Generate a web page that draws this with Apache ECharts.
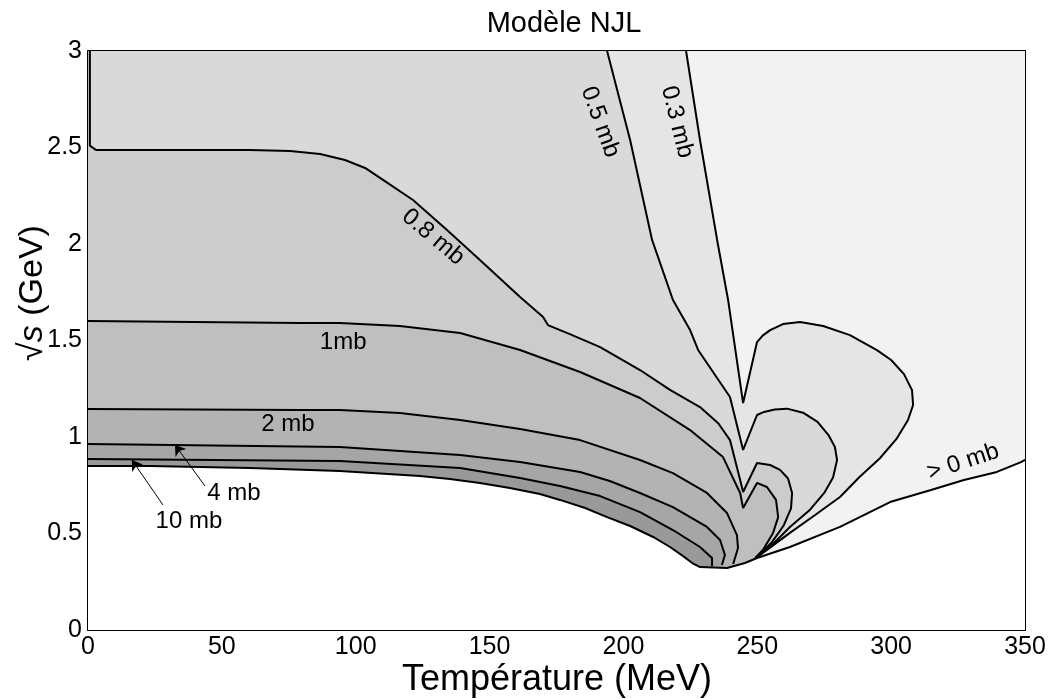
<!DOCTYPE html>
<html>
<head>
<meta charset="utf-8">
<title>Modèle NJL</title>
<script src="https://cdn.jsdelivr.net/npm/echarts@6/dist/echarts.min.js"></script>
<style>
  html, body { margin: 0; padding: 0; background: #fff; }
  #main { width: 1050px; height: 699px; }
</style>
</head>
<body>
<div id="main"></div>
<script>
// contour lines, points are [T (MeV), sqrt(s) (GeV)]
var c03 = [[223.4, 3.0], [228.6, 2.539], [235.0, 2.021], [239.1, 1.710], [244.7, 1.176],
  [249.9, 1.492], [252.0, 1.525], [254.8, 1.554], [259.6, 1.585], [266.0, 1.596], [274.6, 1.575],
  [284.6, 1.528], [294.7, 1.450], [300.0, 1.399], [304.8, 1.326], [307.8, 1.243], [308.2, 1.166],
  [306.3, 1.088], [302.0, 0.990], [295.8, 0.890], [288.0, 0.790], [280.9, 0.689], [271.6, 0.596],
  [262.2, 0.503], [253.6, 0.415], [249.9, 0.378]];
var c05 = [[193.9, 3.0], [202.5, 2.539], [210.7, 2.021], [218.5, 1.710], [224.9, 1.554],
  [227.9, 1.451], [239.8, 1.207], [244.7, 0.933], [249.9, 1.114], [252.5, 1.130], [256.5, 1.142],
  [261.1, 1.147], [267.1, 1.126], [272.5, 1.078], [276.6, 1.010], [279.0, 0.948], [279.8, 0.881],
  [278.3, 0.790], [275.0, 0.710], [269.5, 0.620], [262.2, 0.534], [254.8, 0.430], [249.9, 0.378]];
var c08 = [[0.7, 3.0], [0.7, 2.51], [3.0, 2.487], [60.5, 2.487], [75.5, 2.482], [86.7, 2.466],
  [96.0, 2.435], [103.5, 2.394], [110.9, 2.326], [121.4, 2.228], [134.1, 2.073], [146.4, 1.917],
  [161.4, 1.725], [170.0, 1.622], [171.8, 1.580], [180.0, 1.533], [191.3, 1.466], [206.2, 1.347],
  [217.4, 1.244], [228.6, 1.155], [235.5, 1.070], [239.8, 0.984], [243.6, 0.777], [244.7, 0.715],
  [249.9, 0.865], [254.8, 0.855], [258.5, 0.830], [261.5, 0.785], [263.0, 0.710], [262.6, 0.630],
  [259.8, 0.540], [255.5, 0.455], [249.9, 0.378]];
var c1 = [[0, 1.601], [79.2, 1.591], [94.1, 1.591], [116.5, 1.575], [139.0, 1.539], [161.4, 1.451],
  [183.8, 1.337], [206.2, 1.202], [224.9, 1.036], [237.2, 0.896], [243.6, 0.710], [244.7, 0.632],
  [249.9, 0.762], [253.6, 0.741], [257.0, 0.674], [257.8, 0.585], [255.9, 0.503], [252.1, 0.415],
  [249.2, 0.373]];
var c2 = [[0, 1.145], [79.2, 1.140], [94.1, 1.140], [116.5, 1.124], [139.0, 1.088], [161.4, 1.041],
  [183.8, 0.984], [206.2, 0.881], [218.5, 0.813], [231.2, 0.710], [238.7, 0.606], [242.4, 0.492],
  [242.8, 0.425], [241.0, 0.342]];
var c4 = [[0, 0.964], [94.1, 0.948], [139.0, 0.907], [161.4, 0.870], [183.8, 0.819], [194.9, 0.772],
  [206.2, 0.710], [218.5, 0.637], [231.2, 0.534], [236.1, 0.466], [237.9, 0.389], [236.8, 0.337]];
var c10 = [[0, 0.886], [94.1, 0.876], [139.0, 0.839], [161.4, 0.788], [176.3, 0.746], [191.3, 0.694],
  [206.2, 0.611], [218.5, 0.518], [228.6, 0.430], [233.1, 0.373], [233.1, 0.332]];
var boundary = [[0, 0.850], [23.2, 0.850], [60.5, 0.839], [94.1, 0.824], [124.0, 0.798],
  [135.2, 0.782], [146.4, 0.762], [157.6, 0.736], [168.8, 0.705], [176.3, 0.674], [185.7, 0.632],
  [193.9, 0.585], [202.5, 0.539], [211.1, 0.482], [217.4, 0.430], [222.3, 0.383], [225.7, 0.347],
  [228.6, 0.326], [238.7, 0.321], [245.4, 0.347], [249.9, 0.373], [262.2, 0.430], [280.9, 0.534],
  [299.6, 0.663], [314.9, 0.725], [327.2, 0.777], [339.5, 0.819], [348.5, 0.870], [350, 0.881]];

var levelColors = ['#e5e5e5', '#d9d9d9', '#cccccc', '#bfbfbf', '#b3b3b3', '#a6a6a6', '#999999'];

var labelText = ['0.3 mb', '0.5 mb', '0.8 mb', '1mb', '2 mb', '4 mb', '10 mb', '> 0 mb'];
var labelAt = [[220.0, 2.632], [191.3, 2.632], [128.9, 2.036], [95.3, 1.492], [74.7, 1.067],
  [54.5, 0.710], [37.7, 0.565], [326.9, 0.870]];
var labelRot = [-76, -70, -40, 0, 0, 0, 0, 18];

// arrows pointing to the 10 mb and 4 mb lines
var arrows = [[[28.0, 0.648], [16.4, 0.881]], [[43.7, 0.746], [32.5, 0.959]]];

var FONT = '"Liberation Sans", Arial, sans-serif';

// filled regions, drawn from lightest to darkest, white covers below the 0 line
function closeDown(pts) {
    var last = pts[pts.length - 1];
    return pts.concat([[last[0], 0], [0, 0], [0, pts[0][1]]]);
}
var regions = [{ pts: [[0, 3], [350, 3], [350, 0], [0, 0]], fill: '#f2f2f2' }];
[c03, c05, c08, c1, c2, c4, c10].forEach(function (c, i) {
    regions.push({ pts: closeDown(c), fill: levelColors[i] });
});
regions.push({ pts: boundary.concat([[350, 0], [0, 0]]), fill: '#ffffff' });

var myChart = echarts.init(document.getElementById('main'));

var lineSeries = [c03, c05, c08, c1, c2, c4, c10, boundary].map(function (c) {
    return {
        type: 'line',
        data: c,
        showSymbol: false,
        silent: true,
        z: 5,
        lineStyle: { color: '#000', width: 2 }
    };
});

var tickStyle = { inside: true, length: 8, lineStyle: { color: '#000', width: 1.5 } };
var lineStyle = { color: '#000', width: 2 };

var option = {
    animation: false,
    backgroundColor: '#fff',
    title: {
        text: 'Modèle NJL',
        left: 559,
        textAlign: 'center',
        top: 4,
        textStyle: { fontFamily: FONT, fontSize: 29, fontWeight: 'normal', color: '#000' }
    },
    grid: { left: 88, right: 25, top: 51, bottom: 69, containLabel: false, outerBoundsMode: 'none' },
    xAxis: [{
        type: 'value', min: 0, max: 350, interval: 50,
        axisLine: { show: true, onZero: false, lineStyle: lineStyle },
        axisTick: tickStyle,
        axisLabel: { color: '#000', fontSize: 25, margin: 5, fontFamily: FONT },
        splitLine: { show: false }
    }, {
        type: 'value', position: 'top', min: 0, max: 350, interval: 50,
        axisLine: { show: true, onZero: false, lineStyle: lineStyle },
        axisTick: tickStyle, axisLabel: { show: false }, splitLine: { show: false }
    }],
    yAxis: [{
        type: 'value', min: 0, max: 3, interval: 0.5,
        axisLine: { show: true, onZero: false, lineStyle: lineStyle },
        axisTick: tickStyle,
        axisLabel: { color: '#000', fontSize: 25, margin: 6, fontFamily: FONT },
        splitLine: { show: false }
    }, {
        type: 'value', position: 'right', min: 0, max: 3, interval: 0.5,
        axisLine: { show: true, onZero: false, lineStyle: lineStyle },
        axisTick: tickStyle, axisLabel: { show: false }, splitLine: { show: false }
    }],
    series: [{
        type: 'custom',
        coordinateSystem: 'cartesian2d',
        silent: true,
        clip: true,
        z: 2,
        data: regions.map(function (r, i) { return [i, 0]; }),
        renderItem: function (params, api) {
            var r = regions[params.dataIndex];
            return {
                type: 'polygon',
                z2: params.dataIndex,
                shape: { points: r.pts.map(function (p) { return api.coord(p); }) },
                style: { fill: r.fill, stroke: null }
            };
        }
    }].concat(lineSeries).concat([{
        type: 'lines',
        coordinateSystem: 'cartesian2d',
        silent: true,
        z: 6,
        symbol: ['none', 'arrow'],
        symbolSize: 10,
        lineStyle: { color: '#000', width: 1, opacity: 1 },
        data: arrows.map(function (a) { return { coords: a }; })
    }])
};

myChart.setOption(option);

var graphics = labelText.map(function (t, i) {
    var px = myChart.convertToPixel({ gridIndex: 0 }, labelAt[i]);
    return {
        type: 'text',
        x: px[0], y: px[1],
        rotation: labelRot[i] * Math.PI / 180,
        z: 10,
        style: {
            text: t, fill: '#000', font: '24px ' + FONT,
            align: 'center', verticalAlign: 'middle'
        }
    };
});
// x axis name
graphics.push({
    type: 'text',
    x: 557, y: 680,
    z: 10,
    style: {
        text: 'Température (MeV)', fill: '#000', font: '36px ' + FONT,
        align: 'center', verticalAlign: 'middle'
    }
});
// y axis name, sitting a bit above the middle of the axis as in the picture
graphics.push({
    type: 'text',
    x: 33, y: 293,
    rotation: Math.PI / 2,
    z: 10,
    style: {
        text: '{a|√}{b|s}{a| (GeV)}',
        align: 'center', verticalAlign: 'middle',
        rich: {
            a: { fontSize: 34, lineHeight: 34, fill: '#000', fontFamily: FONT },
            b: { fontSize: 34, lineHeight: 34, fill: '#000', fontFamily: FONT, fontStyle: 'italic' }
        }
    }
});
myChart.setOption({ graphic: graphics });
</script>
</body>
</html>
